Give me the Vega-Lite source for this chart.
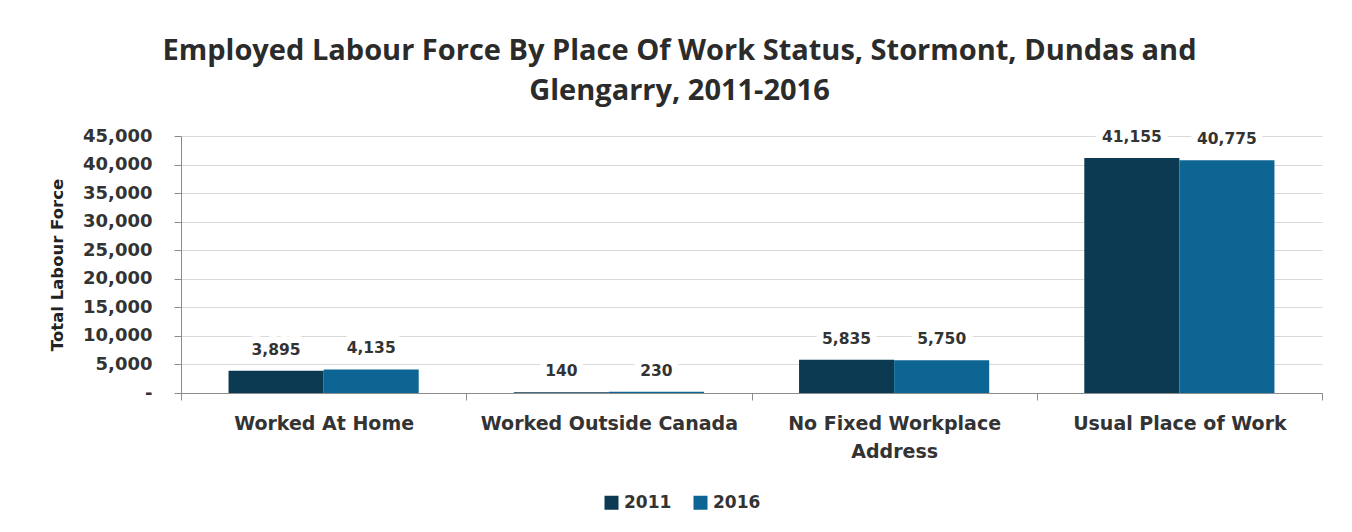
{
  "$schema": "https://vega.github.io/schema/vega-lite/v6.json",
  "width": 1141,
  "height": 257,
  "autosize": "none",
  "padding": {"left": 181, "top": 136, "right": 30, "bottom": 139},
  "background": "white",
  "title": {
    "text": ["Employed Labour Force By Place Of Work Status, Stormont, Dundas and", "Glengarry, 2011-2016"],
    "anchor": "middle",
    "dx": -72,
    "offset": 21,
    "font": "Open Sans",
    "fontSize": 29,
    "fontWeight": "bold",
    "color": "#2b2b2b",
    "lineHeight": 40
  },
  "config": {
    "view": {"stroke": null},
    "font": "DejaVu Sans"
  },
  "data": {
    "values": [
      {"category": "Worked At Home", "year": "2011", "value": 3895},
      {"category": "Worked At Home", "year": "2016", "value": 4135},
      {"category": "Worked Outside Canada", "year": "2011", "value": 140},
      {"category": "Worked Outside Canada", "year": "2016", "value": 230},
      {"category": "No Fixed Workplace Address", "year": "2011", "value": 5835},
      {"category": "No Fixed Workplace Address", "year": "2016", "value": 5750},
      {"category": "Usual Place of Work", "year": "2011", "value": 41155},
      {"category": "Usual Place of Work", "year": "2016", "value": 40775}
    ]
  },
  "encoding": {
    "x": {
      "field": "category",
      "type": "nominal",
      "sort": null,
      "scale": {"paddingInner": 0, "paddingOuter": 0},
      "axis": {
        "title": null,
        "labelAngle": 0,
        "labelLimit": 400,
        "tickBand": "extent",
        "domainColor": "#8c8c8c",
        "tickColor": "#8c8c8c",
        "tickSize": 7,
        "labelFont": "DejaVu Sans",
        "labelFontSize": 19,
        "labelFontWeight": "bold",
        "labelColor": "#333333",
        "labelPadding": 14,
        "labelLineHeight": 28,
        "labelExpr": "datum.value == 'No Fixed Workplace Address' ? ['No Fixed Workplace', 'Address'] : datum.value"
      }
    },
    "xOffset": {
      "field": "year",
      "type": "nominal",
      "scale": {"paddingInner": 0, "paddingOuter": 0.5}
    },
    "y": {
      "field": "value",
      "type": "quantitative",
      "scale": {"domain": [0, 45000], "nice": false},
      "axis": {
        "title": "Total Labour Force",
        "titleFont": "DejaVu Sans",
        "titleFontSize": 16.5,
        "titleFontWeight": "bold",
        "titleColor": "#222222",
        "titlePadding": 17,
        "values": [0, 5000, 10000, 15000, 20000, 25000, 30000, 35000, 40000, 45000],
        "labelExpr": "datum.value == 0 ? '-' : format(datum.value, ',')",
        "labelFont": "DejaVu Sans",
        "labelFontSize": 18,
        "labelFontWeight": "bold",
        "labelColor": "#333333",
        "labelPadding": 22,
        "domainColor": "#8c8c8c",
        "tickColor": "#8c8c8c",
        "tickSize": 7,
        "gridColor": "#d9d9d9",
        "gridWidth": 1.2
      }
    },
    "color": {
      "field": "year",
      "type": "nominal",
      "scale": {"domain": ["2011", "2016"], "range": ["#0b3a52", "#0c6592"]},
      "legend": {
        "title": null,
        "orient": "none",
        "direction": "horizontal",
        "legendX": 422,
        "legendY": 358,
        "symbolType": "square",
        "symbolSize": 196,
        "symbolStrokeWidth": 0,
        "labelFont": "DejaVu Sans",
        "labelFontSize": 17,
        "labelFontWeight": "bold",
        "labelColor": "#333333",
        "labelOffset": 4,
        "columnPadding": 20
      }
    }
  },
  "layer": [
    {"mark": {"type": "bar"}},
    {
      "mark": {"type": "text", "dy": -21, "baseline": "middle", "font": "DejaVu Sans", "fontSize": 15.5, "fontWeight": "bold", "stroke": "white", "strokeWidth": 14, "strokeJoin": "round"},
      "encoding": {
        "text": {"field": "value", "type": "quantitative", "format": ","},
        "color": {"value": "white"}
      }
    },
    {
      "mark": {"type": "text", "dy": -21, "baseline": "middle", "font": "DejaVu Sans", "fontSize": 15.5, "fontWeight": "bold"},
      "encoding": {
        "text": {"field": "value", "type": "quantitative", "format": ","},
        "color": {"value": "#333333"}
      }
    }
  ]
}
